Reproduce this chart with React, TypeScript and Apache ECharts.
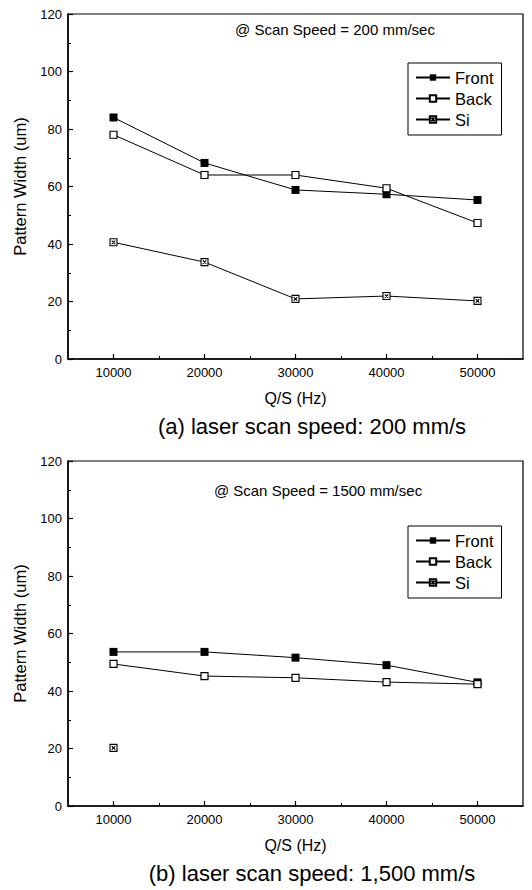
import React, { useEffect, useRef } from "react";
import * as echarts from "echarts";

const qsValues = [10000, 20000, 30000, 40000, 50000];
const majorTicksX = [10000, 20000, 30000, 40000, 50000];
const minorTicksX = [15000, 25000, 35000, 45000];

// (a) 200 mm/s
const frontA = [84, 68.2, 58.8, 57.3, 55.3];
const backA = [78, 64, 64, 59.4, 47.3];
const siA = [40.6, 33.7, 20.9, 21.9, 20.2];

// (b) 1500 mm/s
const frontB = [53.6, 53.6, 51.6, 49, 43];
const backB = [49.4, 45.2, 44.6, 43.1, 42.4];
const siBx = [10000];
const siB = [20.2];

const legendNames = ["Front", "Back", "Si"];
const noteA = "@ Scan Speed = 200 mm/sec";
const noteB = "@ Scan Speed = 1500 mm/sec";
const captionA = "(a) laser scan speed: 200 mm/s";
const captionB = "(b) laser scan speed: 1,500 mm/s";
const xName = "Q/S (Hz)";
const yName = "Pattern Width (um)";

const FONT = "'Liberation Sans', Arial, sans-serif";
const SI_SYMBOL = "path://M0 0H10V10H0ZM2.5 2.5L7.5 7.5M7.5 2.5L2.5 7.5";

const pair = (xs: number[], ys: number[]) => xs.map((x, i) => [x, ys[i]]);

export default function App() {
  const ref = useRef<HTMLDivElement>(null);
  useEffect(() => {
    if (!ref.current) return;
    const chart = echarts.init(ref.current, undefined, { renderer: "svg" });

    const grids = [
      { left: 68, top: 14, width: 455, height: 345 },
      { left: 68, top: 461, width: 455, height: 345 },
    ].map((g) => ({ ...g, show: true, borderColor: "#000", borderWidth: 1.2, backgroundColor: "transparent" }));

    const mainX = (gi: number) => ({
      type: "value",
      gridIndex: gi,
      min: 5000,
      max: 55000,
      position: "bottom",
      name: xName,
      nameLocation: "middle",
      nameGap: 31,
      nameTextStyle: { fontFamily: FONT, fontSize: 16, color: "#000" },
      axisLine: { show: true, lineStyle: { color: "#000", width: 1.5 } },
      axisTick: { show: true, inside: true, length: 5, customValues: majorTicksX, lineStyle: { color: "#000", width: 1.2 } },
      axisLabel: {
        customValues: majorTicksX,
        formatter: (v: number) => String(v),
        fontFamily: FONT,
        fontSize: 13,
        color: "#000",
        margin: 7,
      },
      splitLine: { show: false },
    });
    const minorX = (gi: number) => ({
      type: "value",
      gridIndex: gi,
      min: 5000,
      max: 55000,
      position: "bottom",
      axisLine: { show: false },
      axisTick: { show: true, inside: true, length: 3, customValues: minorTicksX, lineStyle: { color: "#000", width: 1 } },
      axisLabel: { show: false },
      splitLine: { show: false },
    });
    const yAx = (gi: number) => ({
      type: "value",
      gridIndex: gi,
      min: 0,
      max: 120,
      interval: 20,
      name: yName,
      nameLocation: "middle",
      nameGap: 40,
      nameTextStyle: { fontFamily: FONT, fontSize: 16.5, color: "#000" },
      axisLine: { show: true, lineStyle: { color: "#000", width: 1.5 } },
      axisTick: { show: true, inside: true, length: 5, lineStyle: { color: "#000", width: 1.2 } },
      minorTick: { show: true, splitNumber: 2, length: 3, lineStyle: { color: "#000", width: 1 } },
      axisLabel: { fontFamily: FONT, fontSize: 13, color: "#000", margin: 6 },
      splitLine: { show: false },
    });

    const lineStyle = { color: "#000", width: 1 };
    const mk = (name: string, data: number[][], gi: number) => {
      const base: any = {
        type: "line",
        name,
        xAxisIndex: gi * 2,
        yAxisIndex: gi,
        data,
        lineStyle,
        symbolSize: 8,
        emphasis: { disabled: true },
      };
      if (name === "Front") {
        base.symbol = "rect";
        base.itemStyle = { color: "#000" };
      } else if (name === "Back") {
        base.symbol = "rect";
        base.symbolSize = 7;
        base.itemStyle = { color: "#fff", borderColor: "#000", borderWidth: 1.2 };
      } else {
        base.symbol = SI_SYMBOL;
        base.symbolSize = 7;
        base.itemStyle = { color: "#fff", borderColor: "#000", borderWidth: 1.1 };
      }
      return base;
    };

    const legendCfg = (top: number) => ({
      orient: "vertical",
      left: 408,
      top,
      data: legendNames,
      borderColor: "#000",
      borderWidth: 1,
      padding: [6, 8, 7, 7],
      itemGap: 4,
      itemWidth: 34,
      itemHeight: 8,
      itemTextGap: 5,
      selectedMode: false,
      textStyle: { fontFamily: FONT, fontSize: 16.5, color: "#000" },
    });

    const text = (t: string, x: number, y: number, size: number) => ({
      type: "text",
      x,
      y,
      style: { text: t, fontFamily: FONT, fontSize: size, fill: "#000", textAlign: "center", textVerticalAlign: "middle" },
    });

    chart.setOption({
      animation: false,
      backgroundColor: "#fff",
      grid: grids,
      xAxis: [mainX(0), minorX(0), mainX(1), minorX(1)],
      yAxis: [yAx(0), yAx(1)],
      legend: [legendCfg(63), legendCfg(526)],
      series: [
        mk("Front", pair(qsValues, frontA), 0),
        mk("Back", pair(qsValues, backA), 0),
        mk("Si", pair(qsValues, siA), 0),
        mk("Front", pair(qsValues, frontB), 1),
        mk("Back", pair(qsValues, backB), 1),
        mk("Si", pair(siBx, siB), 1),
      ],
      graphic: [
        text(noteA, 335, 29, 15),
        text(noteB, 318, 490, 15),
        text(captionA, 312, 426, 22),
        text(captionB, 312, 873, 22),
      ],
    });
    return () => chart.dispose();
  }, []);
  return <div ref={ref} style={{ position: "absolute", left: 0, top: 0, width: 532, height: 890 }} />;
}
